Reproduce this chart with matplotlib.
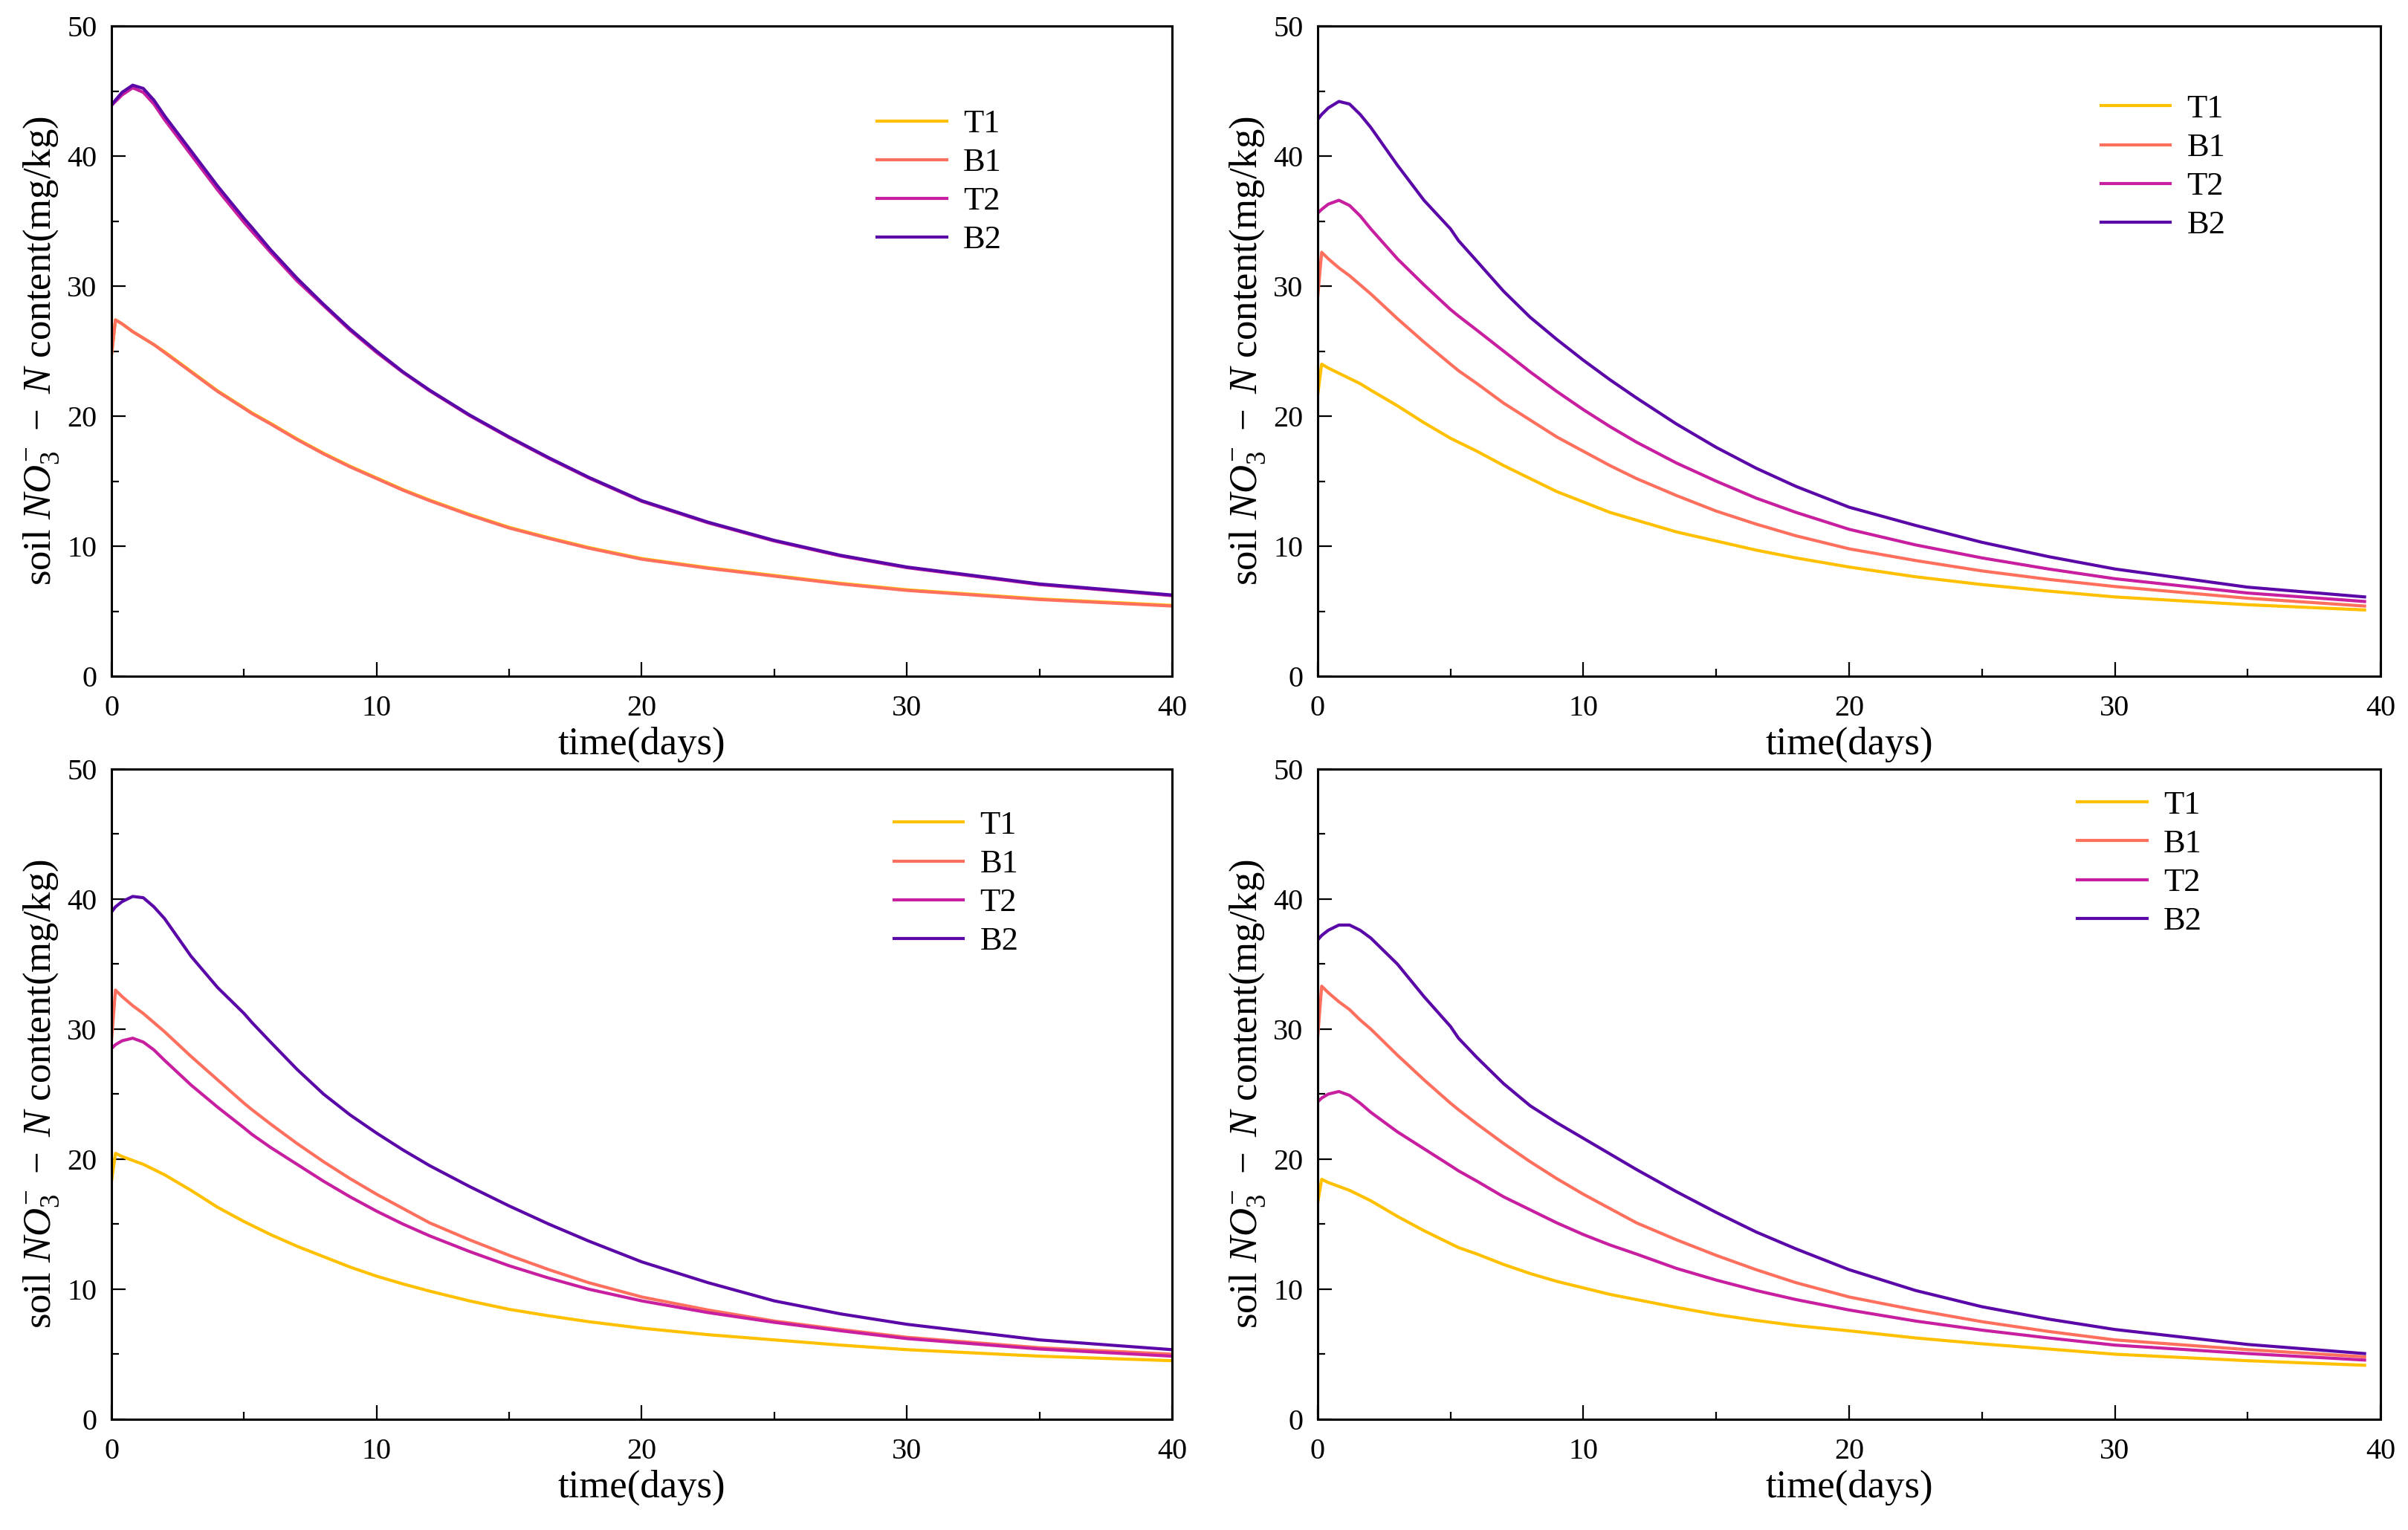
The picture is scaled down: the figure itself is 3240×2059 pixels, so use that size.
import matplotlib
matplotlib.use("Agg")
import matplotlib.pyplot as plt
from matplotlib.ticker import MultipleLocator

plt.rcParams['font.family'] = ['Liberation Serif', 'DejaVu Serif']
plt.rcParams['mathtext.fontset'] = 'custom'
plt.rcParams['mathtext.rm'] = 'Liberation Serif'
plt.rcParams['mathtext.it'] = 'Liberation Serif:italic'

# series names and colours
names = ["T1", "B1", "T2", "B2"]
colors = ["#FFC000", "#FF6F5E", "#C71FA0", "#5B08A8"]

# time points (days) - left panels run to 40, right panels stop at 39.4
t_left = [0, 0.15, 0.4, 0.8, 1.2, 1.6, 2, 3, 4, 5, 5.3, 6, 7, 8, 9, 10, 11, 12, 13.5,
          15, 16.5, 18, 20, 22.5, 25, 27.5, 30, 35, 40]
t_right = [0, 0.15, 0.4, 0.8, 1.2, 1.6, 2, 3, 4, 5, 5.3, 6, 7, 8, 9, 10, 11, 12, 13.5,
           15, 16.5, 18, 20, 22.5, 25, 27.5, 30, 35, 39.4]

# panel 1 (top left)
p1_T1 = [24.7, 27.4, 27.1, 26.5, 26.0, 25.5, 24.95, 23.45, 21.95, 20.65, 20.25, 19.45, 18.25,
         17.15, 16.15, 15.25, 14.35, 13.55, 12.45, 11.45, 10.65, 9.9, 9.05, 8.35, 7.75, 7.15,
         6.65, 5.95, 5.45]
p1_B1 = [24.7, 27.4, 27.1, 26.5, 26.0, 25.5, 24.9, 23.4, 21.9, 20.6, 20.2, 19.4, 18.2,
         17.1, 16.1, 15.2, 14.3, 13.5, 12.4, 11.4, 10.6, 9.85, 9.0, 8.3, 7.7, 7.1,
         6.6, 5.9, 5.4]
p1_T2 = [43.9, 44.2, 44.7, 45.25, 44.9, 44.0, 42.8, 40.1, 37.4, 34.9, 34.2, 32.6, 30.4,
         28.5, 26.6, 24.9, 23.35, 21.95, 20.05, 18.35, 16.75, 15.25, 13.45, 11.8, 10.4, 9.25,
         8.35, 7.05, 6.2]
p1_B2 = [43.9, 44.3, 44.9, 45.45, 45.2, 44.3, 43.1, 40.4, 37.7, 35.2, 34.5, 32.8, 30.6,
         28.6, 26.7, 25.0, 23.4, 22.0, 20.1, 18.4, 16.8, 15.3, 13.5, 11.85, 10.45, 9.3,
         8.4, 7.1, 6.25]

# panel 2 (top right)
p2_T1 = [21.6, 24.0, 23.7, 23.3, 22.9, 22.5, 22.0, 20.8, 19.5, 18.3, 18.0, 17.3, 16.2,
         15.2, 14.2, 13.4, 12.6, 12.0, 11.1, 10.4, 9.7, 9.1, 8.4, 7.65, 7.05, 6.55,
         6.1, 5.5, 5.1]
p2_B1 = [29.1, 32.6, 32.1, 31.4, 30.8, 30.1, 29.4, 27.5, 25.7, 24.0, 23.5, 22.5, 21.0,
         19.7, 18.4, 17.3, 16.2, 15.2, 13.9, 12.7, 11.7, 10.8, 9.8, 8.9, 8.1, 7.45,
         6.9, 6.0, 5.4]
p2_T2 = [35.6, 35.9, 36.3, 36.6, 36.2, 35.4, 34.4, 32.1, 30.1, 28.2, 27.7, 26.6, 25.0,
         23.4, 21.9, 20.5, 19.2, 18.0, 16.4, 15.0, 13.7, 12.6, 11.3, 10.1, 9.1, 8.25,
         7.5, 6.4, 5.75]
p2_B2 = [42.8, 43.2, 43.7, 44.2, 44.0, 43.2, 42.2, 39.3, 36.6, 34.4, 33.5, 31.9, 29.6,
         27.6, 25.9, 24.3, 22.8, 21.4, 19.4, 17.6, 16.0, 14.6, 13.0, 11.6, 10.3, 9.2,
         8.25, 6.85, 6.1]

# panel 3 (bottom left)
p3_T1 = [18.3, 20.45, 20.2, 19.9, 19.6, 19.2, 18.8, 17.6, 16.3, 15.2, 14.9, 14.2, 13.3,
         12.5, 11.7, 11.0, 10.4, 9.85, 9.1, 8.45, 7.95, 7.5, 7.0, 6.5, 6.1, 5.7,
         5.35, 4.85, 4.5]
p3_B1 = [29.1, 33.0, 32.5, 31.8, 31.2, 30.5, 29.8, 27.9, 26.1, 24.3, 23.8, 22.7, 21.2,
         19.8, 18.5, 17.3, 16.2, 15.1, 13.8, 12.6, 11.5, 10.5, 9.4, 8.4, 7.55, 6.9,
         6.3, 5.5, 5.0]
p3_T2 = [28.5, 28.8, 29.1, 29.3, 29.0, 28.4, 27.6, 25.7, 24.0, 22.4, 21.9, 20.9, 19.6,
         18.3, 17.1, 16.0, 15.0, 14.1, 12.9, 11.8, 10.85, 10.0, 9.1, 8.2, 7.45, 6.8,
         6.2, 5.4, 4.85]
p3_B2 = [39.0, 39.4, 39.8, 40.2, 40.1, 39.4, 38.5, 35.6, 33.2, 31.2, 30.5, 29.0, 26.9,
         25.0, 23.4, 22.0, 20.7, 19.5, 17.9, 16.4, 15.0, 13.7, 12.1, 10.5, 9.1, 8.1,
         7.3, 6.1, 5.35]

# panel 4 (bottom right)
p4_T1 = [16.6, 18.45, 18.2, 17.9, 17.6, 17.2, 16.8, 15.6, 14.5, 13.5, 13.2, 12.7, 11.9,
         11.2, 10.6, 10.1, 9.6, 9.2, 8.6, 8.05, 7.6, 7.2, 6.8, 6.25, 5.8, 5.4,
         5.0, 4.5, 4.15]
p4_B1 = [29.3, 33.3, 32.8, 32.1, 31.5, 30.7, 30.0, 28.0, 26.1, 24.3, 23.8, 22.7, 21.2,
         19.8, 18.5, 17.3, 16.2, 15.1, 13.8, 12.6, 11.5, 10.5, 9.4, 8.4, 7.5, 6.75,
         6.1, 5.35, 4.8]
p4_T2 = [24.4, 24.7, 25.0, 25.2, 24.9, 24.3, 23.6, 22.1, 20.8, 19.5, 19.1, 18.3, 17.1,
         16.1, 15.1, 14.2, 13.4, 12.7, 11.6, 10.7, 9.9, 9.2, 8.4, 7.55, 6.85, 6.25,
         5.7, 5.05, 4.55]
p4_B2 = [36.85, 37.2, 37.6, 38.0, 38.0, 37.6, 37.0, 35.0, 32.5, 30.2, 29.3, 27.8, 25.8,
         24.1, 22.8, 21.6, 20.4, 19.2, 17.5, 15.9, 14.4, 13.1, 11.5, 9.9, 8.65, 7.7,
         6.9, 5.75, 5.05]

panels = [
    (t_left, [p1_T1, p1_B1, p1_T2, p1_B2]),
    (t_right, [p2_T1, p2_B1, p2_T2, p2_B2]),
    (t_left, [p3_T1, p3_B1, p3_T2, p3_B2]),
    (t_right, [p4_T1, p4_B1, p4_T2, p4_B2]),
]

# axes rectangles [left, bottom, width, height] in figure fraction
rects = [
    [0.0463, 0.558, 0.4404, 0.425],
    [0.5472, 0.558, 0.4414, 0.425],
    [0.0463, 0.0724, 0.4404, 0.425],
    [0.5472, 0.0724, 0.4414, 0.425],
]
# legend anchor (axes fraction, upper left corner)
legend_pos = [(0.722, 0.872), (0.737, 0.895), (0.738, 0.936), (0.715, 0.967)]

fig = plt.figure(figsize=(16.2, 10.295), dpi=200)

for (t, series), rect, lpos in zip(panels, rects, legend_pos):
    ax = fig.add_axes(rect)
    for name, col, vals in zip(names, colors, series):
        ax.plot(t, vals, color=col, linewidth=1.5, label=name)

    ax.set_xlim(0, 40)
    ax.set_ylim(0, 50)
    ax.xaxis.set_major_locator(MultipleLocator(10))
    ax.xaxis.set_minor_locator(MultipleLocator(5))
    ax.yaxis.set_major_locator(MultipleLocator(10))
    ax.yaxis.set_minor_locator(MultipleLocator(5))
    ax.tick_params(which='both', direction='in', top=False, right=False, width=0.8)
    ax.tick_params(which='major', length=7, labelsize=14.5)
    ax.tick_params(which='minor', length=3.5)
    ax.tick_params(axis='x', which='major', pad=9)
    ax.tick_params(axis='y', which='major', pad=7)
    for sp in ax.spines.values():
        sp.set_linewidth(1.1)

    ax.set_xlabel("time(days)", fontsize=19, labelpad=2)
    ax.set_ylabel(r"soil $NO_3^{-}\ -\ N$ content(mg/kg)", fontsize=19, labelpad=3)

    ax.legend(loc='upper left', bbox_to_anchor=lpos, frameon=False, fontsize=16,
              borderpad=0, borderaxespad=0, handlelength=2.1, handletextpad=0.5,
              labelspacing=0.27)

fig.savefig("out.png", dpi=200)
